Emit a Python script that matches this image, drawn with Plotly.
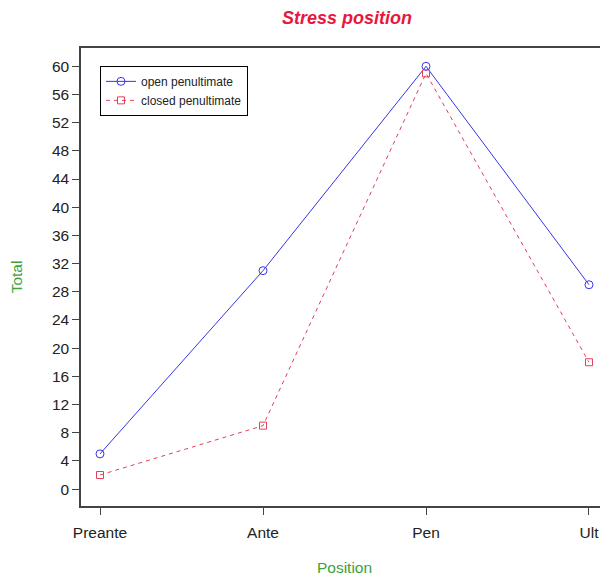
import plotly.graph_objects as go

positions = ["Preante", "Ante", "Pen", "Ult"]
x_index = [1, 2, 3, 4]
open_penultimate = [5, 31, 60, 29]
closed_penultimate = [2, 9, 59, 18]
y_ticks = list(range(0, 61, 4))

fig = go.Figure()
fig.add_trace(go.Scatter(
    x=x_index, y=open_penultimate, mode="lines+markers", name="open penultimate",
    line=dict(color="#3535E8", width=1),
    marker=dict(symbol="circle-open", size=8, color="#3535E8", line=dict(width=1)),
))
fig.add_trace(go.Scatter(
    x=x_index, y=closed_penultimate, mode="lines+markers", name="closed penultimate",
    line=dict(color="#E2405C", width=1, dash="4px,4px"),
    marker=dict(symbol="square-open", size=7, color="#E2405C", line=dict(width=1)),
))

axis_font = dict(family="Liberation Sans, Arial, sans-serif", size=15.5, color="#222222")

# page body has an 8px margin: figure sits at (8, 8) in the window
W, H = 600, 570
fig.update_layout(
    width=W, height=H,
    margin=dict(l=73, r=0, t=40, b=72),
    paper_bgcolor="white", plot_bgcolor="white",
    font=dict(family="Liberation Sans, Arial, sans-serif"),
    title=dict(text="<b><i>Stress position</i></b>", x=(347 - 8) / W, xanchor="center",
               y=1 - 3 / H, yanchor="top",
               font=dict(size=18, color="#E8173C", family="Liberation Sans, Arial, sans-serif")),
    showlegend=True,
    legend=dict(x=0.036, y=0.961, xanchor="left", yanchor="top",
                bgcolor="white", bordercolor="black", borderwidth=1,
                font=dict(size=12, color="#222222"),
                tracegroupgap=0, itemwidth=30),
    xaxis=dict(
        range=[0.8834, 4.1166], tickmode="array", tickvals=x_index, ticktext=positions,
        showgrid=False, zeroline=False, showline=True, linecolor="#444444", linewidth=1.5,
        mirror=True, ticks="outside", ticklen=7, tickcolor="#444444", automargin=False,
        tickfont=axis_font, ticklabelstandoff=5,
        title=dict(text="Position", font=dict(size=15.5, color="#3AA33A"), standoff=22),
    ),
    yaxis=dict(
        range=[-2.4, 62.6], tickmode="array", tickvals=y_ticks, automargin=False,
        showgrid=False, zeroline=False, showline=True, linecolor="#444444", linewidth=1.5,
        mirror=False, ticks="outside", ticklen=7, tickcolor="#444444",
        tickfont=axis_font,
        title=dict(text="Total", font=dict(size=15.5, color="#3AA33A"), standoff=27),
    ),
)

fig.write_html("out.html")
